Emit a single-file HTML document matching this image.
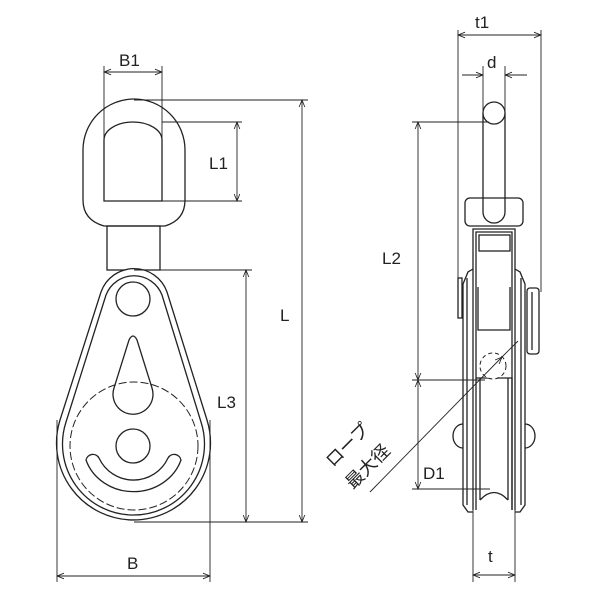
<!DOCTYPE html>
<html><head><meta charset="utf-8"><style>
html,body{margin:0;padding:0;background:#fff}
svg{display:block}
text{font-family:"Liberation Sans","Noto Sans CJK JP",sans-serif;fill:#222}
</style></head><body>
<svg width="600" height="600" viewBox="0 0 600 600" xmlns="http://www.w3.org/2000/svg">
<defs>
<marker id="a" viewBox="0 0 10 10" refX="10" refY="5" markerWidth="9" markerHeight="7" orient="auto-start-reverse" markerUnits="userSpaceOnUse">
<path d="M0,1 L10,5 L0,9" fill="none" stroke="#222" stroke-width="1.2"/></marker>
</defs>
<g fill="none" stroke="#222" stroke-width="1.3">
<path d="M83,150 A51,51 0 0 1 185,150 L185,200 Q185,220 165,226 L104,226 Q83,220 83,200 Z"/>
<path d="M104,140 A29,18 0 0 1 162,140 L162,201 L104,201 Z"/>
<rect x="107" y="226" width="53" height="44"/>
<path d="M101,292 A35,35 0 0 1 167,292 L207,420 A77,77 0 1 1 60,420 Z" fill="#fff"/>
<path d="M106,295 A30,30 0 0 1 162,295 L201,422 A71,71 0 1 1 66,422 Z"/>
<circle cx="134" cy="446" r="64" stroke-dasharray="8,3" stroke-width="1"/>
<circle cx="133" cy="299" r="17"/>
<path d="M129,340 Q133,332 137,340 L152,388 A20,20 0 1 1 114,388 Z"/>
<circle cx="133" cy="446" r="17"/>
<path d="M86,460 A7,7 0 0 1 99,458 A38,38 0 0 0 168,458 A7,7 0 0 1 181,460 A50,46 0 0 1 86,460 Z"/>
<g stroke-width="0.9">
<line x1="104" y1="66" x2="104" y2="140"/><line x1="162" y1="66" x2="162" y2="201"/>
<line x1="104" y1="72" x2="162" y2="72" marker-start="url(#a)" marker-end="url(#a)"/>
<line x1="162" y1="122" x2="242" y2="122"/><line x1="162" y1="201" x2="242" y2="201"/>
<line x1="237" y1="122" x2="237" y2="201" marker-start="url(#a)" marker-end="url(#a)"/>
<line x1="134" y1="100" x2="308" y2="100"/><line x1="134" y1="522" x2="308" y2="522"/>
<line x1="302" y1="100" x2="302" y2="522" marker-start="url(#a)" marker-end="url(#a)"/>
<line x1="134" y1="270" x2="252" y2="270"/>
<line x1="246" y1="270" x2="246" y2="522" marker-start="url(#a)" marker-end="url(#a)"/>
<line x1="57" y1="420" x2="57" y2="582"/><line x1="210" y1="420" x2="210" y2="582"/>
<line x1="57" y1="576" x2="210" y2="576" marker-start="url(#a)" marker-end="url(#a)"/>
</g>
<path d="M483,113 L483,212 A11,11 0 0 0 505,212 L505,113"/>
<circle cx="494" cy="113" r="11" fill="#fff"/>
<rect x="465" y="198" width="58" height="28" rx="5" fill="#fff"/>
<path d="M483,198 L483,212 A11,11 0 0 0 505,212 L505,198"/>
<path d="M473,510 L473,229 L515,229 L515,510"/>
<path d="M476,510 L476,232 L512,232 L512,510"/>
<rect x="479" y="235" width="31" height="16"/>
<path d="M473,269 L468,272 L463,284 L463,505 L468,512 L473,512"/>
<path d="M467,278 L467,505"/>
<path d="M515,269 L520,272 L525,284 L525,505 L520,512 L515,512"/>
<path d="M521,278 L521,505"/>
<rect x="458" y="278" width="4" height="40"/>
<rect x="527" y="288" width="12" height="66" rx="3"/>
<line x1="532" y1="292" x2="532" y2="350"/>
<path d="M478,287 L478,330 L510,330 L510,287"/>
<path d="M476,378 L512,378 L512,510 M480,378 L480,500 M508,378 L508,500"/>
<path d="M480,500 Q494,485 508,500"/>
<path d="M463,424 A10,12 0 0 0 463,448 M525,424 A10,12 0 0 1 525,448"/>
<circle cx="493" cy="366" r="13" stroke-dasharray="4,3" stroke-width="1" fill="#fff"/>
<g stroke-width="0.9">
<line x1="458" y1="30" x2="458" y2="318"/><line x1="541" y1="30" x2="541" y2="292"/>
<line x1="458" y1="35" x2="541" y2="35" marker-start="url(#a)" marker-end="url(#a)"/>
<line x1="483" y1="66" x2="483" y2="113"/><line x1="505" y1="66" x2="505" y2="113"/>
<line x1="462" y1="75" x2="483" y2="75" marker-end="url(#a)"/>
<line x1="527" y1="75" x2="505" y2="75" marker-end="url(#a)"/>
<line x1="412" y1="122" x2="489" y2="122"/>
<line x1="412" y1="380" x2="485" y2="380"/>
<line x1="412" y1="489" x2="490" y2="489"/>
<line x1="418" y1="122" x2="418" y2="380" marker-start="url(#a)" marker-end="url(#a)"/>
<line x1="418" y1="380" x2="418" y2="489" marker-start="url(#a)" marker-end="url(#a)"/>
<line x1="370" y1="492" x2="502" y2="357" marker-end="url(#a)"/>
<line x1="518" y1="341" x2="502" y2="357"/>
<line x1="473" y1="510" x2="473" y2="582"/><line x1="515" y1="510" x2="515" y2="582"/>
<line x1="473" y1="575" x2="515" y2="575" marker-start="url(#a)" marker-end="url(#a)"/>
</g>
</g>
<g font-size="17">
<text x="119" y="66">B1</text>
<text x="209" y="169">L1</text>
<text x="280" y="321">L</text>
<text x="217" y="408">L3</text>
<text x="127" y="569">B</text>
<text x="475" y="28">t1</text>
<text x="487" y="68">d</text>
<text x="382" y="264">L2</text>
<text x="423" y="479">D1</text>
<text x="488" y="562">t</text>
<text transform="translate(333,468) rotate(-45)" font-size="18">ロープ</text>
<text transform="translate(353,490) rotate(-45)" font-size="18">最大径</text>
</g>
</svg>
</body></html>
